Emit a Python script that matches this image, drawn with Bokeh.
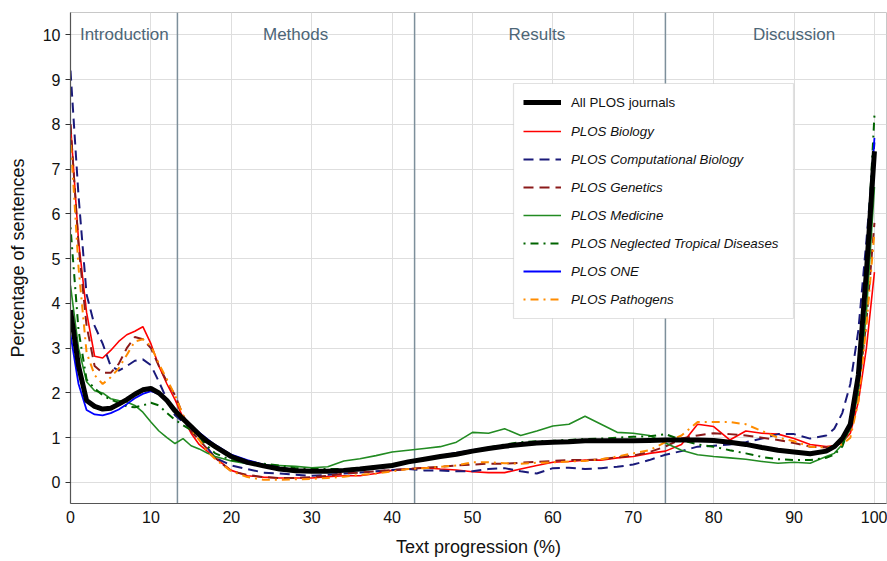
from bokeh.plotting import figure
from bokeh.models import Legend, LegendItem, Span, BoxAnnotation, FixedTicker, ColumnDataSource
from bokeh.embed import file_html
from bokeh.resources import INLINE
from bokeh.core.properties import value

FONT = "Liberation Sans"

progress = [0, 1, 2, 3, 4, 5, 6, 7, 8, 9, 10, 11, 12, 13, 14, 15, 16, 17, 18,
            20, 22, 24, 26, 28, 30, 32, 34, 36, 38,
            40, 42, 44, 46, 48, 50, 52, 54, 56, 58,
            60, 62, 64, 66, 68, 70, 72, 74, 76, 78,
            80, 82, 84, 86, 88, 90, 92, 94,
            95, 96, 97, 98, 99, 100]

all_plos = [3.85, 2.6, 1.83, 1.7, 1.64, 1.66, 1.75, 1.85, 1.97, 2.07, 2.1, 2.0, 1.83, 1.6, 1.42, 1.25, 1.07, 0.92, 0.8,
            0.58, 0.45, 0.37, 0.30, 0.26, 0.25, 0.25, 0.27, 0.30, 0.34,
            0.38, 0.46, 0.52, 0.58, 0.63, 0.70, 0.76, 0.81, 0.85, 0.88,
            0.90, 0.91, 0.93, 0.93, 0.93, 0.93, 0.94, 0.95, 0.95, 0.95,
            0.94, 0.90, 0.85, 0.78, 0.72, 0.68, 0.64, 0.70,
            0.8, 0.98, 1.3, 2.4, 4.7, 7.4]

biology = [8.0, 5.4, 3.8, 2.82, 2.78, 2.95, 3.15, 3.3, 3.38, 3.48, 3.1, 2.6, 2.2, 1.85, 1.45, 1.1, 0.85, 0.7, 0.55,
           0.27, 0.15, 0.12, 0.10, 0.10, 0.10, 0.13, 0.15, 0.15, 0.2,
           0.27, 0.3, 0.33, 0.3, 0.28, 0.24, 0.22, 0.22, 0.3, 0.38,
           0.45, 0.47, 0.5, 0.5, 0.55, 0.58, 0.65, 0.7, 0.85, 1.3,
           1.25, 0.95, 1.15, 1.1, 1.08, 0.98, 0.85, 0.8,
           0.82, 0.9, 1.1, 1.8, 3.0, 4.7]

comp_biology = [9.2, 6.4, 4.2, 3.5, 3.1, 2.6, 2.5, 2.6, 2.72, 2.75, 2.62, 2.25, 1.85, 1.5, 1.35, 1.2, 1.05, 0.78, 0.55,
                0.38, 0.3, 0.22, 0.2, 0.17, 0.15, 0.17, 0.2, 0.22, 0.25,
                0.28, 0.3, 0.27, 0.27, 0.25, 0.25, 0.3, 0.32, 0.25, 0.2,
                0.32, 0.33, 0.3, 0.32, 0.35, 0.4, 0.5, 0.62, 0.7, 0.8,
                0.82, 0.85, 0.9, 0.98, 1.08, 1.08, 0.98, 1.05,
                1.2, 1.55, 2.2, 3.4, 5.4, 7.6]

genetics = [8.0, 5.3, 3.5, 2.6, 2.45, 2.45, 2.65, 3.0, 3.25, 3.2, 3.0, 2.6, 2.25, 1.95, 1.5, 1.15, 0.95, 0.75, 0.55,
            0.25, 0.17, 0.12, 0.1, 0.1, 0.12, 0.15, 0.2, 0.22, 0.25,
            0.28, 0.3, 0.33, 0.35, 0.38, 0.4, 0.42, 0.42, 0.44, 0.46,
            0.48, 0.5, 0.5, 0.52, 0.56, 0.6, 0.68, 0.8, 0.98, 1.05,
            1.1, 1.08, 1.05, 1.0, 0.95, 0.88, 0.8, 0.78,
            0.8, 0.9, 1.2, 2.0, 3.6, 5.8]

medicine = [4.4, 3.0, 2.25, 2.05, 2.0, 1.87, 1.83, 1.8, 1.72, 1.57, 1.35, 1.15, 1.0, 0.87, 0.98, 0.82, 0.75, 0.66, 0.58,
            0.48, 0.42, 0.4, 0.38, 0.36, 0.33, 0.35, 0.48, 0.53, 0.6,
            0.68, 0.72, 0.76, 0.8, 0.9, 1.12, 1.1, 1.2, 1.05, 1.15,
            1.26, 1.3, 1.48, 1.3, 1.12, 1.1, 1.05, 0.88, 0.72, 0.62,
            0.58, 0.55, 0.52, 0.47, 0.43, 0.45, 0.43, 0.58,
            0.65, 0.85, 1.2, 2.0, 3.8, 6.6]

ntd = [5.7, 3.4, 2.3, 2.1, 1.95, 1.85, 1.78, 1.7, 1.68, 1.72, 1.78, 1.72, 1.55, 1.4, 1.28, 1.17, 1.02, 0.82, 0.65,
       0.5, 0.45, 0.42, 0.38, 0.32, 0.3, 0.3, 0.3, 0.32, 0.36,
       0.4, 0.46, 0.52, 0.58, 0.64, 0.7, 0.78, 0.85, 0.9, 0.92,
       0.93, 0.95, 0.97, 0.98, 1.0, 1.02, 1.03, 1.08, 0.95, 0.85,
       0.8, 0.72, 0.65, 0.57, 0.52, 0.5, 0.5, 0.55,
       0.62, 0.8, 1.3, 2.4, 4.8, 8.2]

one = [3.3, 2.2, 1.62, 1.52, 1.5, 1.55, 1.63, 1.75, 1.88, 1.98, 2.04, 1.98, 1.83, 1.62, 1.43, 1.27, 1.12, 0.97, 0.84,
       0.62, 0.5, 0.4, 0.33, 0.28, 0.26, 0.26, 0.28, 0.31, 0.35,
       0.39, 0.46, 0.53, 0.6, 0.66, 0.72, 0.78, 0.83, 0.87, 0.9,
       0.92, 0.93, 0.94, 0.95, 0.95, 0.95, 0.95, 0.96, 0.96, 0.96,
       0.95, 0.91, 0.86, 0.79, 0.73, 0.69, 0.65, 0.71,
       0.82, 1.0, 1.35, 2.5, 5.0, 7.7]

pathogens = [7.7, 4.8, 2.9, 2.4, 2.2, 2.35, 2.55, 2.85, 3.15, 3.2, 3.05, 2.65, 2.3, 1.95, 1.5, 1.18, 0.95, 0.7, 0.52,
             0.25, 0.12, 0.06, 0.06, 0.07, 0.08, 0.1, 0.13, 0.17, 0.2,
             0.25, 0.3, 0.32, 0.35, 0.38, 0.45, 0.45, 0.43, 0.42, 0.44,
             0.45, 0.47, 0.48, 0.52, 0.58, 0.65, 0.72, 0.9, 1.05, 1.35,
             1.35, 1.35, 1.3, 1.15, 1.0, 0.92, 0.8, 0.78,
             0.8, 0.85, 1.0, 1.8, 3.5, 5.6]

section_names = ["Introduction", "Methods", "Results", "Discussion"]
section_centers = [6.7, 28.0, 58.0, 90.0]
section_bounds = [13.3, 42.8, 74.0]
x_ticks = [0, 10, 20, 30, 40, 50, 60, 70, 80, 90, 100]
y_ticks = [0, 1, 2, 3, 4, 5, 6, 7, 8, 9, 10]

X0, X1 = 0, 101.5
Y0, Y1 = -0.47, 10.5
W, H = 887, 561
BL, BR, BT, BB = 70, 1, 12, 58
FW, FH = W - BL - BR, H - BT - BB

p = figure(width=W, height=H, x_range=(X0, X1), y_range=(Y0, Y1),
           output_backend="svg", toolbar_location=None,
           min_border_left=BL, min_border_right=BR, min_border_top=BT, min_border_bottom=BB)

p.background_fill_color = "white"
p.outline_line_color = "#c8c8c8"
p.outline_line_width = 1
p.grid.grid_line_color = "#dedede"
p.grid.grid_line_width = 1

p.xaxis.ticker = FixedTicker(ticks=x_ticks)
p.yaxis.ticker = FixedTicker(ticks=y_ticks)
for ax in (p.xaxis, p.yaxis):
    ax.axis_line_color = "#555555"
    ax.axis_line_width = 1.2
    ax.major_tick_line_color = "#333333"
    ax.minor_tick_line_color = None
    ax.major_label_text_font = FONT
    ax.major_label_text_font_size = "16px"
    ax.major_label_text_color = "#111111"
    ax.axis_label_text_font = FONT
    ax.axis_label_text_font_size = "18px"
    ax.axis_label_text_font_style = "normal"
    ax.axis_label_text_color = "#111111"
p.xaxis.major_tick_out = 0
p.xaxis.major_tick_in = 0
p.yaxis.major_tick_out = 5
p.yaxis.major_tick_in = 0
p.xaxis.major_label_standoff = 7
p.yaxis.major_label_standoff = 5
p.xaxis.axis_label = "Text progression (%)"
p.yaxis.axis_label = "Percentage of sentences"
p.xaxis.axis_label_standoff = 11
p.yaxis.axis_label_standoff = 12

for b in section_bounds:
    p.add_layout(Span(location=b, dimension="height", line_color="#7d8f9b",
                      line_width=1.5, level="underlay"))

lab_src = ColumnDataSource(dict(x=section_centers, y=[10.0] * len(section_centers), t=section_names))
p.text(x="x", y="y", text="t", source=lab_src, text_align="center", text_baseline="middle",
       text_font=value(FONT), text_font_size="17px", text_color="#4d6677")

series = [
    ("PLOS Biology", biology, dict(line_color="#ff0000", line_width=1.6)),
    ("PLOS Computational Biology", comp_biology, dict(line_color="#1a1a7a", line_width=2, line_dash="10 6")),
    ("PLOS Genetics", genetics, dict(line_color="#8b1a1a", line_width=2, line_dash="10 6")),
    ("PLOS Medicine", medicine, dict(line_color="#228b22", line_width=1.6)),
    ("PLOS Neglected Tropical Diseases", ntd, dict(line_color="#006400", line_width=2, line_dash="2 5 8 5")),
    ("PLOS ONE", one, dict(line_color="#0000ff", line_width=1.8)),
    ("PLOS Pathogens", pathogens, dict(line_color="#ff8c00", line_width=2, line_dash="2 5 8 5")),
]

renderers = []
for name, ys, style in series:
    r = p.line(progress, ys, **style)
    renderers.append((name, r))

r_all = p.line(progress, all_plos, line_color="black", line_width=5)

# legend box (frame pixel layout converted to data units)
sx = FW / (X1 - X0)
sy = FH / (Y1 - Y0)
box_l, box_r, box_b, box_t = 443, 723, 185, 420
p.add_layout(BoxAnnotation(left=X0 + box_l / sx, right=X0 + box_r / sx,
                           bottom=Y0 + box_b / sy, top=Y0 + box_t / sy,
                           fill_color="white", fill_alpha=1.0,
                           line_color="#9a9a9a", line_width=1.2))

common = dict(glyph_width=38, glyph_height=20, label_height=20, label_standoff=10,
              spacing=8, padding=0, margin=0, border_line_alpha=0, background_fill_alpha=0,
              label_text_font=FONT, label_text_font_size="13.3px", label_text_color="#111111")

leg1 = Legend(items=[LegendItem(label="All PLOS journals", renderers=[r_all])],
              location=(453, 391), label_text_font_style="normal", **common)
leg2 = Legend(items=[LegendItem(label=n, renderers=[r]) for n, r in renderers],
              location=(453, 194), label_text_font_style="italic", **common)
p.add_layout(leg1)
p.add_layout(leg2)

open("out.html", "w").write(file_html(p, INLINE))
